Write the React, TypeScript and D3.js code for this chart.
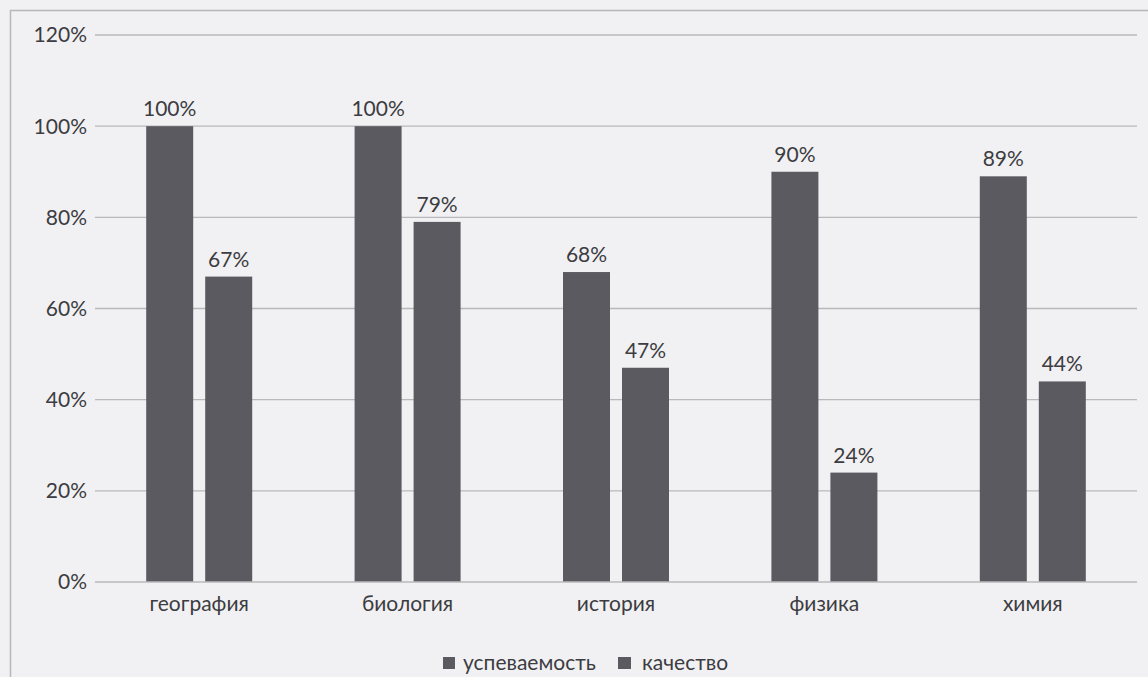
import React from "react";
import * as d3 from "d3";

const categories = ["география", "биология", "история", "физика", "химия"];
const seriesNames = ["успеваемость", "качество"];
const uspevaemost = [100, 100, 68, 90, 89];
const kachestvo = [67, 79, 47, 24, 44];
const yTicks = [0, 20, 40, 60, 80, 100, 120];

const W = 1148, H = 677;
const left = 95, right = 1137, top = 35, bottom = 582;
const BAR = "#5b5a60";
const TXT = "#3c3c41";
const FONT = "Lato, 'Open Sans', 'Liberation Sans', sans-serif";
const FS = 21;

export default function App() {
  const x = d3.scaleBand<string>().domain(categories).range([left, right]);
  const y = d3.scaleLinear().domain([0, 120]).range([bottom, top]);
  const bw = 47, gap = 12;
  const series = [uspevaemost, kachestvo];
  return (
    <svg width={W} height={H} style={{ position: "absolute", left: 0, top: 0, background: "#f1f1f3" }} fontFamily={FONT}>
      <rect x={0} y={0} width={W} height={H} fill="#f1f1f3" />
      <rect x={10.5} y={10.5} width={W + 10} height={H + 10} fill="none" stroke="#b8b8bc" strokeWidth={1.5} />
      {yTicks.map((t) => (
        <g key={t}>
          {t > 0 && <line x1={left} x2={right} y1={y(t)} y2={y(t)} stroke="#b9b9bd" strokeWidth={1.3} />}
          <text x={87} y={y(t)} dy="0.35em" textAnchor="end" fontSize={FS} fill={TXT}>{t}%</text>
        </g>
      ))}
      {categories.map((c, i) => {
        const cx = (x(c) as number) + x.bandwidth() / 2;
        return (
          <g key={c}>
            {series.map((s, j) => {
              const bx = j === 0 ? cx - gap / 2 - bw : cx + gap / 2;
              return (
                <g key={j}>
                  <rect x={bx} y={y(s[i])} width={bw} height={bottom - y(s[i])} fill={BAR} />
                  <text x={bx + bw / 2} y={y(s[i]) - 10} textAnchor="middle" fontSize={FS} fill={TXT}>{s[i]}%</text>
                </g>
              );
            })}
            <text x={cx} y={bottom + 29} textAnchor="middle" fontSize={FS} fill={TXT}>{c}</text>
          </g>
        );
      })}
      <line x1={left} x2={right} y1={bottom} y2={bottom} stroke="#b9b9bd" strokeWidth={1.3} />
      <g transform="translate(0,663)">
        <rect x={443} y={-6} width={12} height={12} fill={BAR} />
        <text x={463} y={0} dy="0.35em" fontSize={FS} fill={TXT}>{seriesNames[0]}</text>
        <rect x={618} y={-6} width={13} height={12} fill={BAR} />
        <text x={642} y={0} dy="0.35em" fontSize={FS} fill={TXT}>{seriesNames[1]}</text>
      </g>
    </svg>
  );
}
